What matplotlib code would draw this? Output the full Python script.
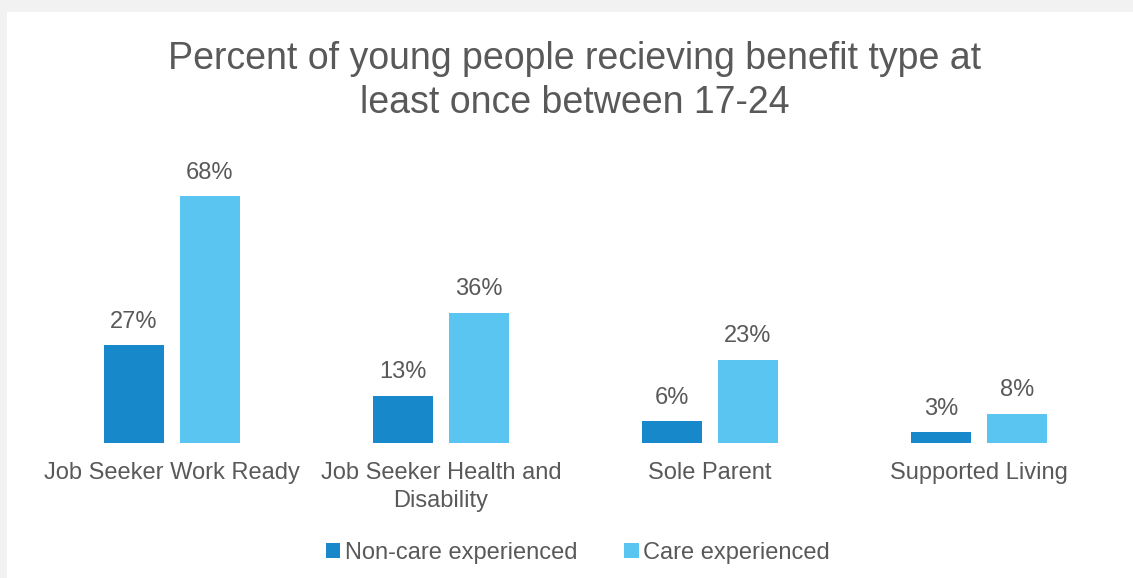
import matplotlib.pyplot as plt
import numpy as np

plt.rcParams['font.family'] = ['Liberation Sans', 'DejaVu Sans']

categories = ["Job Seeker Work Ready", "Job Seeker Health and\nDisability",
              "Sole Parent", "Supported Living"]
non_care = [27, 13, 6, 3]
care = [68, 36, 23, 8]

dark_blue = "#1788CA"
light_blue = "#5BC5F2"
text_grey = "#595959"

fig = plt.figure(figsize=(11.33, 5.78), dpi=100, facecolor="#F2F2F2")
# white chart area, leaving a thin grey strip on top and left
fig.patches.append(plt.Rectangle((7 / 1133, 0), 1, 1 - 12 / 578,
                                 transform=fig.transFigure, facecolor="white",
                                 edgecolor="none", zorder=-5))

ax = fig.add_axes([37.5 / 1133, (578 - 443) / 578, 1076 / 1133, 290 / 578])
ax.set_facecolor("none")
ax.set_zorder(2)

x = np.arange(len(categories))
w = 0.223
off = 0.141
b1 = ax.bar(x - off, non_care, w, color=dark_blue, label="Non-care experienced")
b2 = ax.bar(x + off, care, w, color=light_blue, label="Care experienced")

for bars, vals in ((b1, non_care), (b2, care)):
    for bar, v in zip(bars, vals):
        ax.annotate(f"{v}%", (bar.get_x() + bar.get_width() / 2, v),
                    xytext=(0, 9), textcoords="offset points",
                    ha="center", va="bottom", fontsize=17, color=text_grey)

ax.set_xlim(-0.5, 3.5)
ax.set_ylim(0, 80)
ax.set_yticks([])
ax.set_xticks(x)
ax.set_xticklabels(categories, fontsize=17, color=text_grey, linespacing=1.35)
ax.tick_params(axis="x", length=0, pad=14)
for s in ax.spines.values():
    s.set_visible(False)

fig.suptitle("Percent of young people recieving benefit type at\nleast once between 17-24",
             x=575 / 1133, y=1 - 41 / 578, va="top", fontsize=27,
             color=text_grey, linespacing=1.28)

fig.legend(loc="center", bbox_to_anchor=(578 / 1133, 1 - 553 / 578), ncol=2,
           frameon=False, fontsize=17, labelcolor=text_grey,
           handlelength=0.6, handleheight=0.6, handletextpad=0.2,
           columnspacing=2.0)

fig.savefig("out.png", dpi=100, facecolor=fig.get_facecolor())
